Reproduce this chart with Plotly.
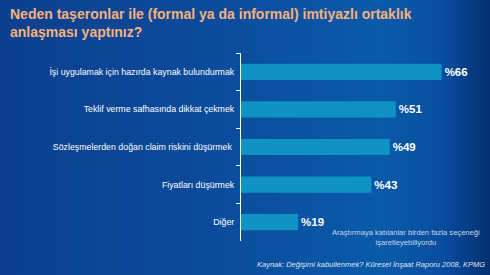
import plotly.graph_objects as go

categories = [
    "İşi uygulamak için hazırda kaynak bulundurmak",
    "Teklif verme safhasında dikkat çekmek",
    "Sözleşmelerden doğan claim riskini düşürmek ",
    "Fiyatları düşürmek",
    "Diğer",
]
values = [66, 51, 49, 43, 19]
value_labels = ["%66", "%51", "%49", "%43", "%19"]

title_text = "Neden taşeronlar ile (formal ya da informal) imtiyazlı ortaklık<br>anlaşması yaptınız?"
note_text = "Araştırmaya katılanlar birden fazla seçeneği<br>işaretleyebiliyordu"
source_text = "Kaynak: Değişimi kabullenmek? Küresel İnşaat Raporu 2008, KPMG"

W, H = 490, 275
FONT = "Liberation Sans, Arial"
fig = go.Figure()

# background gradient on a full-size helper subplot
fig.add_trace(go.Scatter(
    x=[0, 1, 1, 0, 0], y=[0, 0, 1, 1, 0], mode="lines", fill="toself",
    line=dict(width=0),
    fillgradient=dict(type="horizontal", colorscale=[
        [0.0, "#0b3f8e"], [0.45, "#0b4c9c"], [0.78, "#0a5aaa"], [0.9, "#084ea0"], [1.0, "#062f72"]]),
    hoverinfo="skip", showlegend=False, xaxis="x", yaxis="y",
))

fig.add_trace(go.Bar(
    y=categories, x=values, orientation="h",
    marker=dict(color="#0e93c3", line=dict(width=0)),
    text=value_labels, textposition="outside", cliponaxis=False,
    textfont=dict(color="white", size=11.5, family=FONT, weight="bold"),
    xaxis="x2", yaxis="y2", showlegend=False,
))

fig.update_layout(
    width=W, height=H, margin=dict(l=0, r=0, t=0, b=0),
    paper_bgcolor="#0b4592", plot_bgcolor="rgba(0,0,0,0)",
    bargap=0.57,
    xaxis=dict(domain=[0, 1], range=[0, 1], visible=False, fixedrange=True),
    yaxis=dict(domain=[0, 1], range=[0, 1], visible=False, fixedrange=True),
    xaxis2=dict(domain=[240 / W, 1], range=[0, 250 / 3.055], visible=False, anchor="y2"),
    yaxis2=dict(domain=[(H - 241) / H, (H - 53) / H], anchor="free", position=240 / W,
                autorange="reversed", type="category",
                showline=True, linecolor="white", linewidth=1,
                ticks="outside", tickson="boundaries", ticklen=4, tickcolor="white",
                showgrid=False, ticklabelstandoff=4,
                tickfont=dict(color="white", size=8.8, family=FONT)),
    font=dict(family=FONT),
    annotations=[
        dict(text="<b>" + title_text + "</b>", xref="paper", yref="paper", x=8 / W, y=1 - 4 / H,
             xanchor="left", yanchor="top", align="left", showarrow=False,
             font=dict(size=14, color="#f6b17c", family=FONT)),
        dict(text=note_text, xref="paper", yref="paper", x=406 / W, y=1 - 237 / H,
             xanchor="center", yanchor="middle", align="center", showarrow=False,
             font=dict(size=7.6, color="#c9d5ea", family=FONT)),
        dict(text="<i>" + source_text + "</i>", xref="paper", yref="paper", x=487 / W, y=1 - 264 / H,
             xanchor="right", yanchor="middle", align="right", showarrow=False,
             font=dict(size=7.5, color="#dfe3ee", family=FONT)),
    ],
)

fig.write_html("out.html")
